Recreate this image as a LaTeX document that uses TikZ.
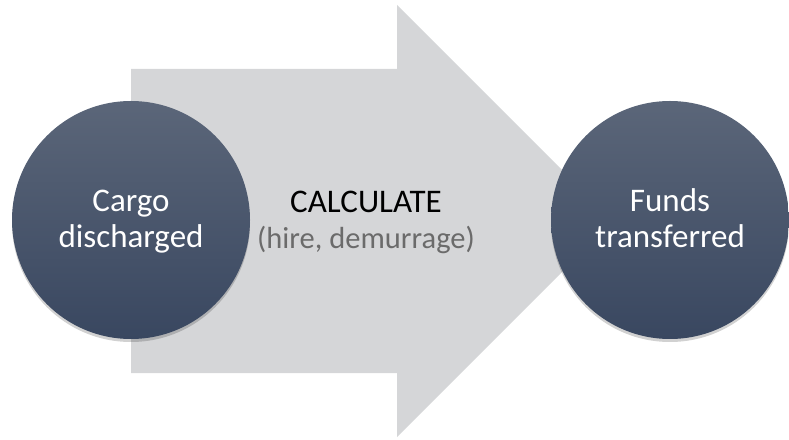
\documentclass[tikz,border=0pt]{standalone}
\usepackage{fontspec}
\setmainfont{Carlito}
\usetikzlibrary{shadows}
\definecolor{arrowgray}{HTML}{D5D6D8}
\definecolor{circtop}{HTML}{5B6679}
\definecolor{circbot}{HTML}{394760}
\definecolor{subgray}{HTML}{6B6B6B}
\tikzset{
  ball/.style={circle, minimum size=238pt, inner sep=0pt, top color=circtop, bottom color=circbot,
    draw=none, text=white, align=center,
    drop shadow={opacity=0.18, shadow xshift=0pt, shadow yshift=-3pt, fill=black}},
  balltext/.style={align=center, text=white, inner sep=0pt, font=\fontsize{33}{36}\selectfont},
  midtext/.style={align=center, inner sep=0pt, font=\fontsize{33}{36}\selectfont}
}
\begin{document}
\begin{tikzpicture}[x=1pt,y=1pt]
\useasboundingbox (0,0) rectangle (789,439);
\fill[arrowgray] (131,370) -- (397,370) -- (397,434) -- (613,218) -- (397,2) -- (397,66) -- (131,66) -- cycle;
\node[ball] (cargo) at (131,219) {};
\node[ball] (funds) at (670,219) {};
\node[balltext] (cargotext) at (131,216.5) {\strut Cargo\\\strut discharged};
\node[balltext] (fundstext) at (670,216.5) {\strut Funds\\\strut transferred};
\node[midtext] (calc) at (366,216) {\strut CALCULATE\\\strut{\fontsize{30.5}{36}\selectfont\textcolor{subgray}{(hire, demurrage)}}};
\end{tikzpicture}
\end{document}
